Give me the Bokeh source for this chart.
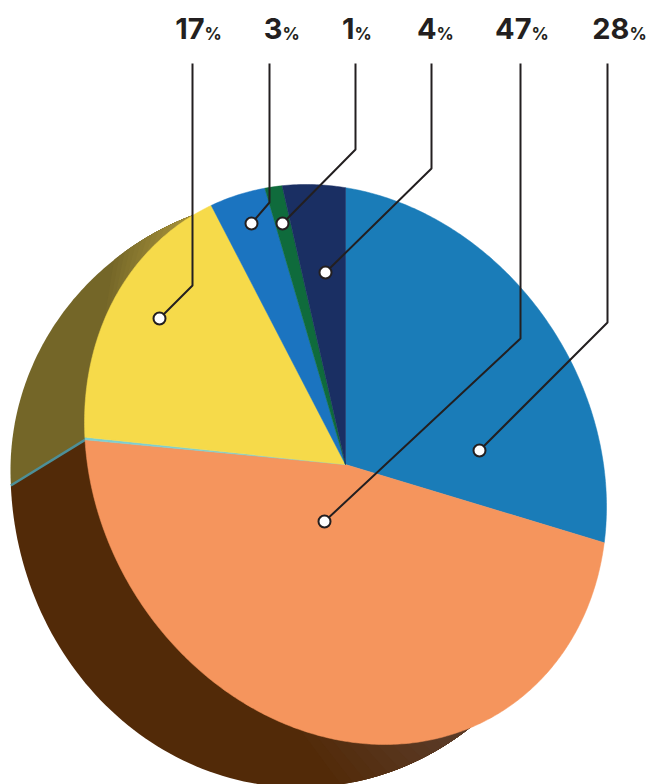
import numpy as np
from bokeh.plotting import figure
from bokeh.models import Range1d
from bokeh.core.properties import value
from bokeh.embed import file_html
from bokeh.resources import INLINE

# ---- data
slice_names = ["blue", "orange", "sliver", "yellow", "mid blue", "green", "navy"]
drawn_shares = [27.1, 46.9, 0.15, 17.25, 3.6, 1.1, 3.9]
slice_colors = ["#1a7cb8", "#f5955d", "#7ccfd2", "#f6da4a", "#1b74c0", "#0f6b3c", "#1a2f63"]

label_numbers = ["17", "3", "1", "4", "47", "28"]
label_unit = "%"

# ---- layout
W, H = 647, 784
CX, CY, SX, SY, SXY = 345.0, 464.0, 261.0, 280.0, 11000.0
label_split_x = [204, 282, 354, 436, 531, 629]
leader_x = [192, 269, 355, 431, 520, 607]
leader_knee_y = [285, 202, 149, 168, 338, 322]
dot_x = [159, 251, 282, 325, 324, 479]
dot_y = [318, 223, 223, 272, 521, 450]
INK = "#231f20"

p = figure(width=W, height=H, output_backend="svg", toolbar_location=None,
           x_range=Range1d(0, W), y_range=Range1d(H, 0), min_border=0,
           background_fill_color="white", border_fill_color="white")
p.axis.visible = False
p.grid.visible = False
p.outline_line_color = None


def front_xy(theta):
    u, v = np.sin(theta), -np.cos(theta)
    rho = SXY / (SX * SY)
    return CX + SX * u, CY + rho * SY * u + SY * np.sqrt(1 - rho ** 2) * v


def mix(a, b, t):
    ca = [int(a[i:i + 2], 16) for i in (1, 3, 5)]
    cb = [int(b[i:i + 2], 16) for i in (1, 3, 5)]
    return "#%02x%02x%02x" % tuple(int(round(x + (y - x) * t)) for x, y in zip(ca, cb))


edges = np.cumsum([0] + drawn_shares) / sum(drawn_shares) * 2 * np.pi

# ---- side of the disc
SIDE_X, SIDE_Y, SIDE_RX, RY_LOW, RY_UP = 300.0, 470.0, 290.0, 317.0, 275.0
ax, ay = front_xy(edges[2])
phi0 = np.arcsin(15 / RY_LOW)
sx0, sy0 = SIDE_X - SIDE_RX * np.cos(phi0), SIDE_Y + RY_LOW * np.sin(phi0)


def side_arc(start, end, ry, sign):
    """Painter's gradient: each later step repaints everything further along the arc."""
    phis = np.radians(np.linspace(start, end, 90))
    return SIDE_X - SIDE_RX * np.cos(phis), SIDE_Y + sign * ry * np.sin(phis)


def fade(start, end, ry, sign, grad_start, grad_end, c0, c1, steps):
    x, y = side_arc(start, end, ry, sign)
    p.patch(np.r_[ax, x], np.r_[ay, y], fill_color=c0, line_color=None)
    for k in range(1, steps + 1):
        g = grad_start + (grad_end - grad_start) * (k - 1) / steps
        x, y = side_arc(g, end, ry, sign)
        p.patch(np.r_[ax, x], np.r_[ay, y], fill_color=mix(c0, c1, k / steps), line_color=None)


fade(np.degrees(phi0), 128, RY_LOW, 1, 98, 122, "#522a08", "#5a3a26", 10)
fade(-3, 68, RY_UP, -1, 50, 66, "#746628", "#a08c38", 12)
p.line([ax, sx0], [ay, sy0], line_color="#4d8f98", line_width=2.5)

# ---- front face
for i, colour in enumerate(slice_colors):
    th = np.linspace(edges[i], edges[i + 1], max(4, int(drawn_shares[i] * 6)))
    x, y = front_xy(th)
    p.patch(np.r_[CX, x], np.r_[CY, y], fill_color=colour, line_color=colour, line_width=0.5)

# ---- leaders
for lx, ky, dx, dy in zip(leader_x, leader_knee_y, dot_x, dot_y):
    p.line([lx, lx, dx], [63, ky, dy], line_color=INK, line_width=2)
p.scatter(dot_x, dot_y, size=12, marker="circle", fill_color="white", line_color=INK, line_width=2)

# ---- labels
p.text(label_split_x, [28] * 6, text=label_numbers, text_align="right", text_baseline="alphabetic",
       text_font=value("Inter"), text_font_style="bold", text_font_size="29px", text_color=INK)
p.text(label_split_x, [33] * 6, text=[label_unit] * 6, text_align="left",
       text_baseline="alphabetic", text_font=value("Inter"), text_font_style="bold",
       text_font_size="17px", text_color=INK)

open("out.html", "w").write(file_html(p, INLINE))
